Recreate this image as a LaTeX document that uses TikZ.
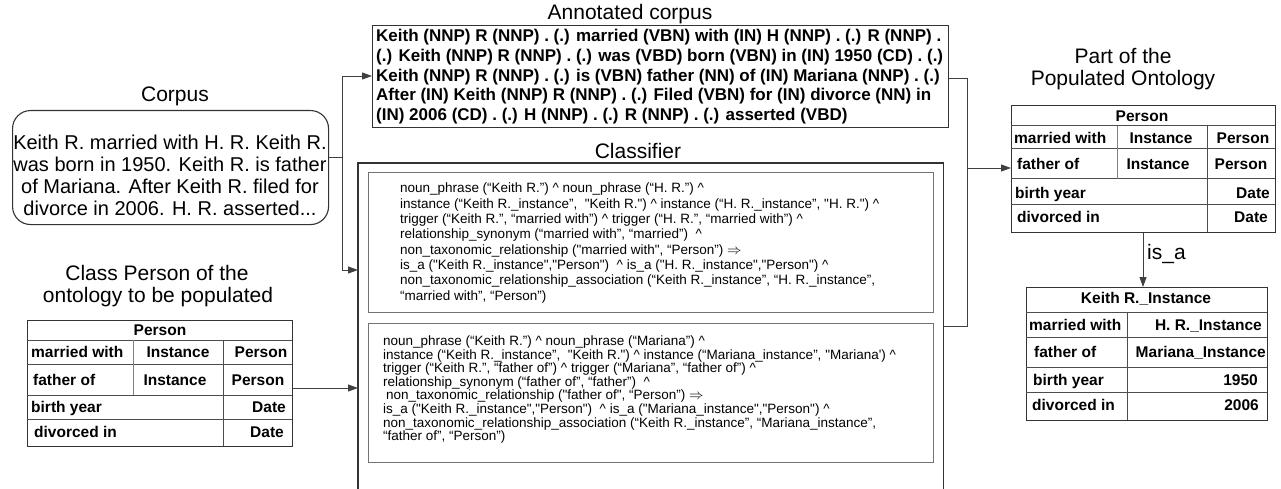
\documentclass[tikz,border=0pt]{standalone}
\usepackage{fontspec}
\setmainfont{Liberation Sans}
\usetikzlibrary{arrows.meta}
\newcommand\ttlf{\fontsize{21}{24}\selectfont}
\newcommand\tabf{\fontsize{15.5}{18}\selectfont\bfseries}
\newcommand\annf{\fontsize{17}{19.8}\selectfont\bfseries}
\newcommand\clsa{\fontsize{13.5}{15.3}\selectfont}
\newcommand\clsb{\fontsize{13.5}{13.6}\selectfont}
\newcommand\corpf{\fontsize{20}{22}\selectfont}
\newcommand\ca{\textasciicircum}
\newcommand\qd{\textquotedbl}
\begin{document}
\begin{tikzpicture}[x=1pt,y=-1pt,
  box/.style={draw=black!80, line width=1.1pt, inner sep=0pt},
  ibox/.style={draw=black!55, line width=1.1pt, inner sep=0pt},
  conn/.style={draw=black!75, line width=0.9pt},
  arr/.style={-{Triangle[length=10pt,width=7pt]}},
  grid/.style={draw=black!70, line width=1pt},
  ttl/.style={font=\ttlf, inner sep=0pt},
  tl/.style={font=\tabf, inner sep=0pt, anchor=base west},
  tc/.style={font=\tabf, inner sep=0pt, anchor=base},
  tr/.style={font=\tabf, inner sep=0pt, anchor=base east}]
\useasboundingbox (0,0) rectangle (1281,489);

% ---------------- titles
\node[ttl, anchor=base] (tcorp) at (175,102) {Corpus};
\node[ttl, anchor=base] (tann) at (630,20) {Annotated corpus};
\node[ttl, anchor=base] (tcls) at (638,159) {Classifier};
\node[ttl, anchor=base] (tcp1) at (157,280) {Class Person of the};
\node[ttl, anchor=base] (tcp2) at (158,302) {ontology to be populated};
\node[ttl, anchor=base] (tpo1) at (1123,64) {Part of the};
\node[ttl, anchor=base] (tpo2) at (1123,86) {Populated Ontology};

% ---------------- corpus
\node[box, rounded corners=18pt, minimum width=316pt, minimum height=114pt, anchor=north west] (corpus) at (12,110) {};
\node[font=\corpf, align=center, inner sep=0pt, anchor=north] (corptext) at (170,135)
  {Keith R. married with H. R. Keith R.\\was born in 1950. Keith R. is father\\of Mariana. After Keith R. filed for\\divorce in 2006. H. R. asserted...};

% ---------------- annotated corpus
\node[box, minimum width=576pt, minimum height=102pt, anchor=north west] (annot) at (372,25) {};
\node[font=\annf, align=left, inner sep=0pt, anchor=north west] (anntext) at (376,29)
  {Keith (NNP) R (NNP) . (.) married (VBN) with (IN) H (NNP) . (.) R (NNP) .\\
   (.) Keith (NNP) R (NNP) . (.) was (VBD) born (VBN) in (IN) 1950 (CD) . (.)\\
   Keith (NNP) R (NNP) . (.) is (VBN) father (NN) of (IN) Mariana (NNP) . (.)\\
   After (IN) Keith (NNP) R (NNP) . (.) Filed (VBN) for (IN) divorce (NN) in\\
   (IN) 2006 (CD) . (.) H (NNP) . (.) R (NNP) . (.) asserted (VBD)};

% ---------------- classifier
\node[minimum width=585pt, minimum height=340pt, inner sep=0pt, anchor=north west] (cls) at (358,163) {};
\draw[box] (cls.south west) -- (cls.north west) -- (cls.north east) -- (cls.south east);
\node[ibox, minimum width=565pt, minimum height=140pt, anchor=north west] (rule1) at (368,172) {};
\node[ibox, minimum width=565pt, minimum height=139pt, anchor=north west] (rule2) at (368,323) {};
\node[font=\clsa, align=left, inner sep=0pt, anchor=north west] (r1text) at (400,183)
  {noun\_phrase (“Keith R.”) \ca{} noun\_phrase (“H. R.”) \ca\\
   instance (“Keith R.\_instance”,\ \ \qd Keith R.\qd) \ca{} instance (“H. R.\_instance”, \qd H. R.\qd) \ca\\
   trigger (“Keith R.”, “married with”) \ca{} trigger (“H. R.”, “married with”) \ca\\
   relationship\_synonym (“married with”, “married”) \ \ca\\
   non\_taxonomic\_relationship (\qd married with\qd, “Person”) $\Rightarrow$\\
   is\_a (\qd Keith R.\_instance\qd,\qd Person\qd) \ \ca{} is\_a (\qd H. R.\_instance\qd,\qd Person\qd) \ca\\
   non\_taxonomic\_relationship\_association (“Keith R.\_instance”, “H. R.\_instance”,\\
   “married with”, “Person”)};
\node[font=\clsb, align=left, inner sep=0pt, anchor=north west] (r2text) at (383,335.5)
  {noun\_phrase (“Keith R.”) \ca{} noun\_phrase (“Mariana”) \ca\\
   instance (“Keith R.\_instance”,\ \ \qd Keith R.\qd) \ca{} instance (“Mariana\_instance”, \qd Mariana\textquotesingle) \ca\\
   trigger (“Keith R.”, “father of”) \ca{} trigger (“Mariana”, “father of”) \ca\\
   relationship\_synonym (“father of”, “father”) \ \ca\\
   \hspace{3pt}non\_taxonomic\_relationship (\qd father of\qd, “Person”) $\Rightarrow$\\
   is\_a (\qd Keith R.\_instance\qd,\qd Person\qd) \ \ca{} is\_a (\qd Mariana\_instance\qd,\qd Person\qd) \ca\\
   non\_taxonomic\_relationship\_association (“Keith R.\_instance”, “Mariana\_instance”,\\
   “father of”, “Person”)};

% ---------------- left table
\node[box, minimum width=265pt, minimum height=126pt, anchor=north west] (ltab) at (27,320) {};
\foreach \yy in {340,364,395,419} \draw[grid] (27,\yy) -- (292,\yy);
\draw[grid, draw=black!50] (133,340) -- (133,395);
\draw[grid] (223,340) -- (223,446);
\node[tc] (lh) at (160,335.5) {Person};
\node[tl] (l1a) at (31,357.5) {married with};
\node[tc] (l1b) at (178,357.5) {Instance};
\node[tc] (l1c) at (261,357.5) {Person};
\node[tl] (l2a) at (33,385) {father of};
\node[tc] (l2b) at (175,385) {Instance};
\node[tc] (l2c) at (258,385) {Person};
\node[tl] (l3a) at (31,412.5) {birth year};
\node[tr] (l3b) at (286,412.5) {Date};
\node[tl] (l4a) at (34,437.5) {divorced in};
\node[tr] (l4b) at (284,437.5) {Date};

% ---------------- populated ontology table
\node[box, minimum width=264pt, minimum height=127pt, anchor=north west] (onto) at (1011,105) {};
\foreach \yy in {126,149,179,204} \draw[grid] (1011,\yy) -- (1275,\yy);
\draw[grid, draw=black!50] (1117,126) -- (1117,179);
\draw[grid] (1207,126) -- (1207,232);
\node[tc] (oh) at (1142,121.5) {Person};
\node[tl] (o1a) at (1014,143.5) {married with};
\node[tc] (o1b) at (1161,143.5) {Instance};
\node[tc] (o1c) at (1243,143.5) {Person};
\node[tl] (o2a) at (1017,170) {father of};
\node[tc] (o2b) at (1158,170) {Instance};
\node[tc] (o2c) at (1241,170) {Person};
\node[tl] (o3a) at (1015,198) {birth year};
\node[tr] (o3b) at (1270,198) {Date};
\node[tl] (o4a) at (1017,222.5) {divorced in};
\node[tr] (o4b) at (1268,222.5) {Date};

% ---------------- instance table
\node[box, minimum width=241pt, minimum height=133pt, anchor=north west] (inst) at (1026,287) {};
\foreach \yy in {312,337,367,392} \draw[grid] (1026,\yy) -- (1267,\yy);
\draw[grid] (1127,312) -- (1127,420);
\node[tc] (ih) at (1146,303) {Keith R.\_Instance};
\node[tl] (i1a) at (1029,330) {married with};
\node[tr] (i1b) at (1262,330) {H. R.\_Instance};
\node[tl] (i2a) at (1034,357.5) {father of};
\node[tr] (i2b) at (1266,357.5) {Mariana\_Instance};
\node[tl] (i3a) at (1033,385.5) {birth year};
\node[tr] (i3b) at (1258,385.5) {1950};
\node[tl] (i4a) at (1032,410.5) {divorced in};
\node[tr] (i4b) at (1259,410.5) {2006};

% ---------------- connectors
\coordinate (sp) at (342,157);
\coordinate (spt) at (342,76);
\coordinate (spb) at (342,270);
\draw[conn] (corpus.east |- sp) -- (sp);
\draw[conn, arr] (sp) -- (spt) -- (annot.west |- spt);
\draw[conn, arr] (sp) -- (spb) -- (cls.west |- spb);
\coordinate (ltrow) at (300,388);
\draw[conn, arr] (ltab.east |- ltrow) -- (cls.west |- ltrow);
\coordinate (rj1) at (967,78);
\coordinate (rj2) at (967,326);
\coordinate (rj3) at (967,168);
\draw[conn] (annot.east |- rj1) -- (rj1) -- (rj2) -- (cls.east |- rj2);
\draw[conn, arr] (rj3) -- (onto.west |- rj3);
\coordinate (isx) at (1143,260);
\draw[conn, arr] (onto.south -| isx) -- (inst.north -| isx);
\node[ttl, anchor=base west] (isa) at (1147,259) {is\_a};
\end{tikzpicture}
\end{document}
